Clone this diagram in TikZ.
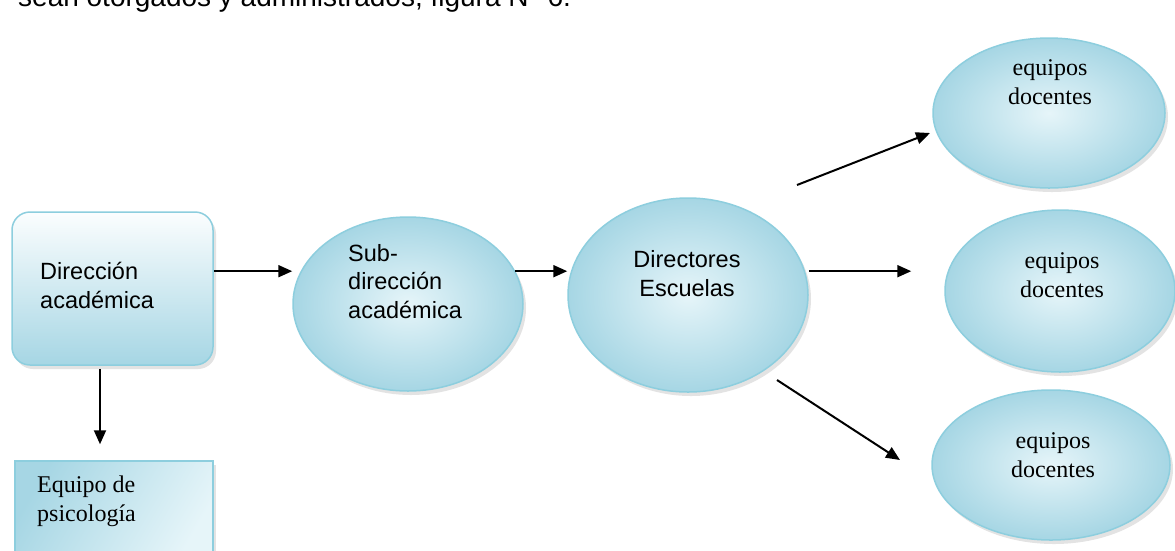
\documentclass[tikz,border=0pt]{standalone}
\usepackage{fontspec}
\setmainfont{Liberation Serif}
\newfontfamily\sansf{Liberation Sans}
\usetikzlibrary{arrows.meta,shadows,calc,shapes.geometric}
\definecolor{bd}{RGB}{141,206,222}
\definecolor{lt}{RGB}{230,245,249}
\definecolor{dk}{RGB}{166,214,228}
\begin{document}
\begin{tikzpicture}[x=1pt,y=-1pt,
  arr/.style={line width=2pt,-{Triangle[length=14pt,width=12pt]}},
  shp/.style={draw=bd,line width=1.5pt,inner sep=0pt,
    drop shadow={shadow xshift=3pt,shadow yshift=-4pt,opacity=0.22}},
  oval/.style={shp,ellipse,inner color=lt,outer color=dk},
  stxt/.style={inner sep=0pt,font=\sansf\fontsize{23.5}{28.5}\selectfont},
  rtxt/.style={inner sep=0pt,font=\fontsize{24}{29}\selectfont,align=center},
]
\clip (0,0) rectangle (1175,550);
\fill[white] (0,0) rectangle (1175,550);

\node[anchor=base west,inner sep=0pt,font=\sansf\fontsize{28}{34}\selectfont] (cap) at (18,6)
  {sean otorgados y administrados, figura N° 6.};

% shapes
\node[shp,rounded corners=18pt,top color=white!85!lt,bottom color=dk,
  minimum width=201pt,minimum height=153pt] (dir) at (112.5,288.5) {};
\node[shp,left color=dk,right color=lt,shading angle=60,
  minimum width=198pt,minimum height=99pt] (eq) at (114,510.5) {};
\node[oval,minimum width=230pt,minimum height=174pt] (sub) at (408,304) {};
\node[oval,minimum width=240pt,minimum height=194pt] (dirs) at (688,295) {};
\node[oval,minimum width=232pt,minimum height=150pt] (e1) at (1049,113) {};
\node[oval,minimum width=230pt,minimum height=162pt] (e2) at (1060,291) {};
\node[oval,minimum width=238pt,minimum height=150pt] (e3) at (1051,465) {};

% texts (anchor base = baseline of last line)
\node[stxt,align=left,anchor=base west] (t1) at (40,308) {Dirección\\académica};
\node[rtxt,align=left,anchor=base west] (t2) at (37,521) {Equipo de\\psicología};
\node[stxt,align=left,anchor=base west] (t3) at (348,318) {Sub-\\dirección\\académica};
\node[stxt,align=center,anchor=base] (t4) at (687,296) {Directores\\Escuelas};
\node[rtxt,anchor=base] (t5) at (1050,104) {equipos\\docentes};
\node[rtxt,anchor=base] (t6) at (1062,297) {equipos\\docentes};
\node[rtxt,anchor=base] (t7) at (1053,477) {equipos\\docentes};

% connectors
\draw[arr] (dir.east |- sub.163) -- (sub.west |- sub.163);
\draw[arr] (sub.17) -- (sub.17 -| dirs.west);
\draw[arr] (dirs.east |- sub.17) -- ($(e2.west |- sub.17)+(-33,0)$);
\draw[arr] ($(dirs.center)+(109,-110)$) -- ($(e1.center)+(-119,20)$);
\draw[arr] ($(dirs.center)+(89,85)$) -- ($(e3.center)+(-151,-5)$);
\draw[arr] ($(dir.south)+(-12.5,3)$) -- ($(eq.north)+(-14,-16)$);
\end{tikzpicture}
\end{document}
